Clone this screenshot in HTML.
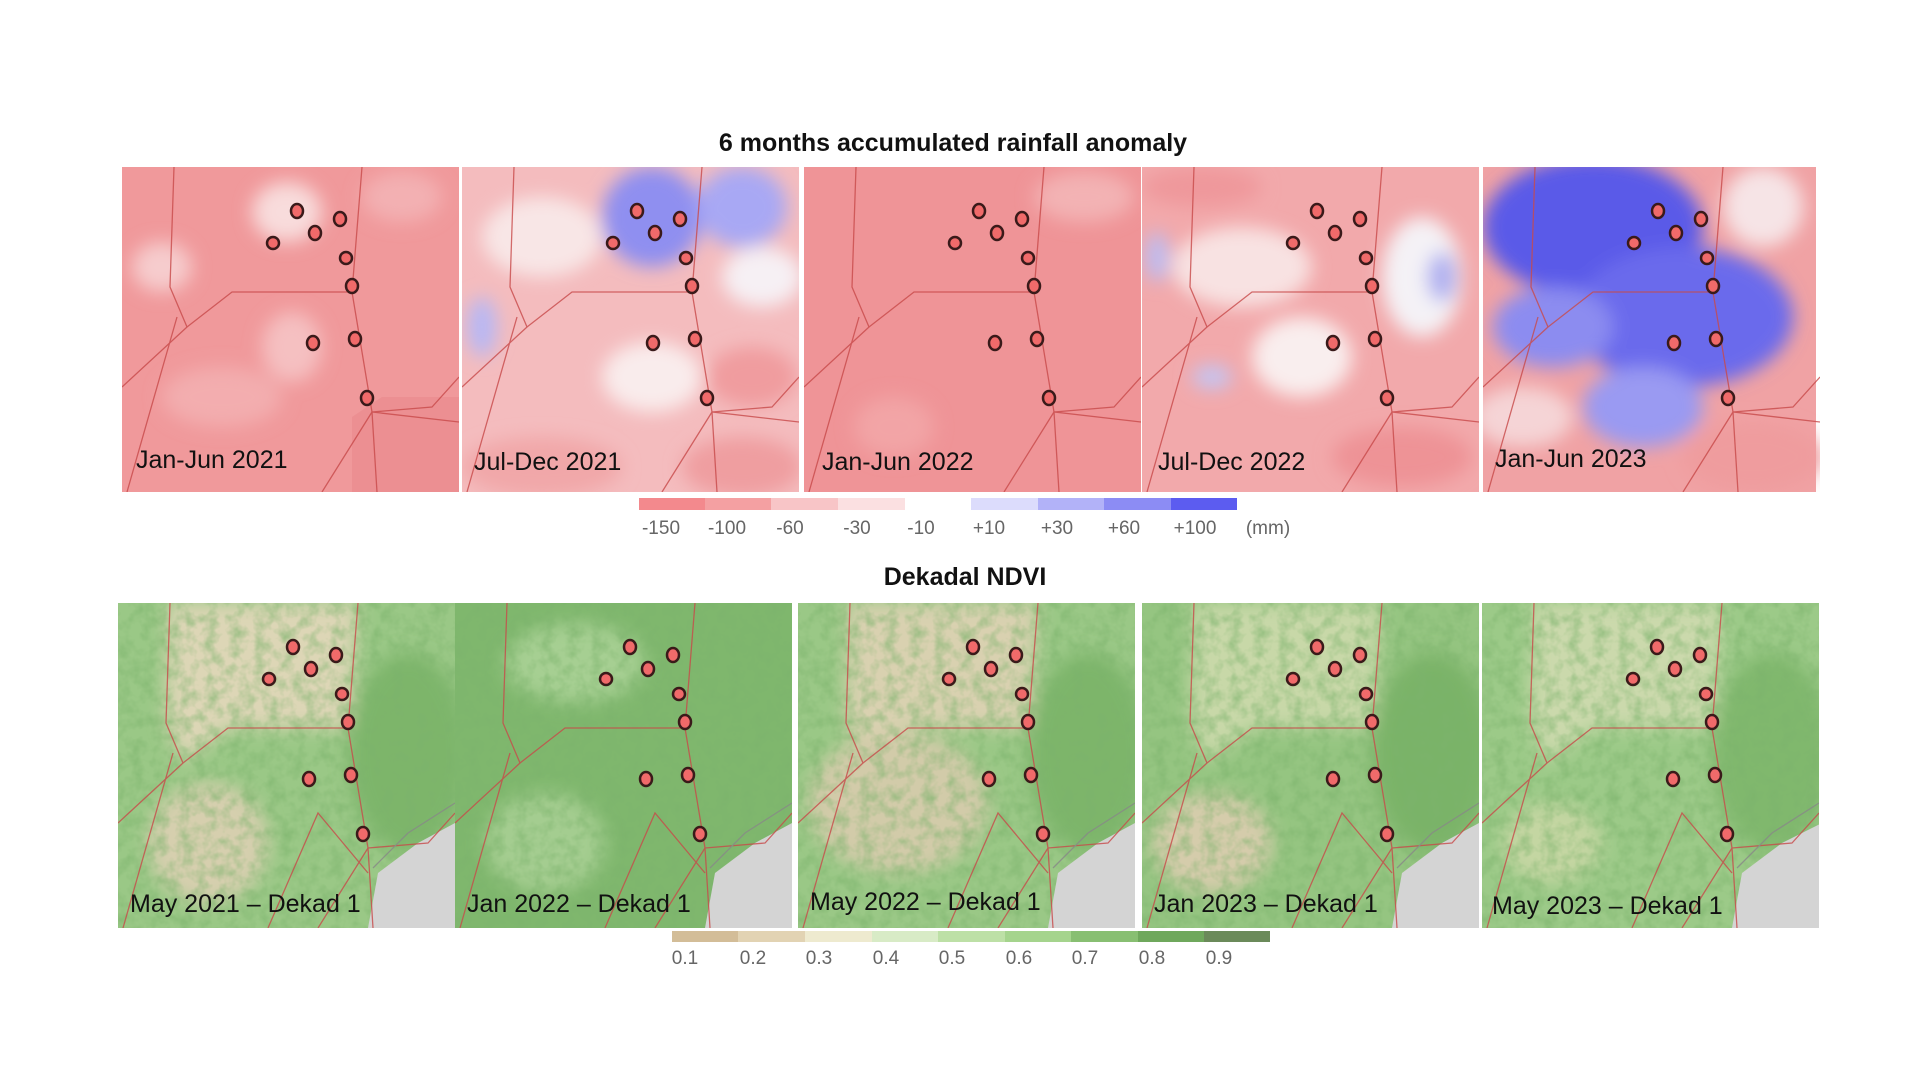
<!DOCTYPE html>
<html><head><meta charset="utf-8"><style>
html,body{margin:0;padding:0;background:#fff;width:1920px;height:1080px;overflow:hidden}
svg{display:block}
text{font-family:"Liberation Sans",sans-serif}
</style></head><body>
<svg width="1920" height="1080" viewBox="0 0 1920 1080" xmlns="http://www.w3.org/2000/svg">
<defs>
<filter id="b" x="-20%" y="-20%" width="140%" height="140%"><feGaussianBlur stdDeviation="9"/></filter>
<filter id="n" x="0" y="0" width="100%" height="100%"><feTurbulence type="fractalNoise" baseFrequency="0.08" numOctaves="3" seed="4"/><feColorMatrix values="0 0 0 0 0.2  0 0 0 0 0.45  0 0 0 0 0.15  0 0 0 1.2 -0.45"/></filter>
<clipPath id="c"><rect width="337" height="325"/></clipPath>
<g id="dots">
<g fill="#f06a6a" stroke="#3a1a1a" stroke-width="2.5">
<ellipse cx="175" cy="44" rx="6" ry="7"/><ellipse cx="218" cy="52" rx="6" ry="7"/><ellipse cx="151" cy="76" rx="6" ry="6"/><ellipse cx="193" cy="66" rx="6" ry="7"/><ellipse cx="224" cy="91" rx="6" ry="6"/><ellipse cx="230" cy="119" rx="6" ry="7"/><ellipse cx="191" cy="176" rx="6" ry="7"/><ellipse cx="233" cy="172" rx="6" ry="7"/><ellipse cx="245" cy="231" rx="6" ry="7"/></g></g>
<g id="lines" fill="none" stroke="#c84a4a" stroke-width="1.3" opacity="0.8">
<polyline points="52,0 48,120 65,160 110,125 230,125 240,0"/>
<polyline points="230,125 250,245 255,325"/>
<polyline points="65,160 0,220"/>
<polyline points="5,325 55,150"/>
<polyline points="250,245 200,325"/>
<polyline points="250,245 310,240 337,210"/>
<polyline points="255,265 290,230 337,200" stroke="#888"/>
<polyline points="150,325 200,210 250,270"/>
</g>
<g id="rlines" fill="none" stroke="#c84a4a" stroke-width="1.3" opacity="0.8">
<polyline points="52,0 48,120 65,160 110,125 230,125 240,0"/>
<polyline points="230,125 250,245 255,325"/>
<polyline points="65,160 0,220"/>
<polyline points="5,325 55,150"/>
<polyline points="250,245 310,240 337,210"/>
<polyline points="200,325 250,245 337,255"/>
</g>
</defs>

<text x="953" y="151" font-size="25" font-weight="bold" text-anchor="middle" fill="#111">6 months accumulated rainfall anomaly</text>

<!-- Panel 1 -->
<g transform="translate(122,167)" clip-path="url(#c)">
<rect width="337" height="325" fill="#f0999b"/>
<g filter="url(#b)"><ellipse cx="165" cy="45" rx="35" ry="30" fill="#f8dcdc"/><ellipse cx="40" cy="100" rx="30" ry="25" fill="#f6cccd"/><ellipse cx="170" cy="180" rx="30" ry="35" fill="#f5c0c1"/><ellipse cx="280" cy="30" rx="40" ry="25" fill="#f3b0b2"/><ellipse cx="100" cy="230" rx="60" ry="30" fill="#f3adaf"/></g>
<path d="M230,250 L260,230 337,230 337,325 230,325Z" fill="#e98a8e" opacity="0.7"/>
<use href="#rlines"/><use href="#dots"/>
<text x="14" y="301" font-size="25" fill="#111">Jan-Jun 2021</text>
</g>
<!-- Panel 2 -->
<g transform="translate(462,167)" clip-path="url(#c)">
<rect width="337" height="325" fill="#f4bcbe"/>
<g filter="url(#b)"><ellipse cx="190" cy="50" rx="50" ry="50" fill="#8f8ff0"/><ellipse cx="280" cy="40" rx="45" ry="40" fill="#a8a8f4"/><ellipse cx="300" cy="110" rx="40" ry="30" fill="#f6f0f4"/><ellipse cx="80" cy="70" rx="60" ry="40" fill="#f8e6e6"/><ellipse cx="20" cy="160" rx="15" ry="30" fill="#b8b8f4"/><ellipse cx="190" cy="210" rx="50" ry="35" fill="#f9ecec"/><ellipse cx="280" cy="300" rx="60" ry="30" fill="#ef9ea0"/><ellipse cx="80" cy="300" rx="80" ry="30" fill="#f1a7a9"/><ellipse cx="290" cy="210" rx="45" ry="30" fill="#f09c9f"/></g>
<use href="#rlines"/><use href="#dots"/>
<text x="12" y="303" font-size="25" fill="#111">Jul-Dec 2021</text>
</g>
<!-- Panel 3 -->
<g transform="translate(804,167)" clip-path="url(#c)">
<rect width="337" height="325" fill="#ef9497"/>
<g filter="url(#b)"><ellipse cx="280" cy="30" rx="50" ry="25" fill="#f3b2b4"/><ellipse cx="90" cy="260" rx="40" ry="30" fill="#f2a4a6"/></g>
<use href="#rlines"/><use href="#dots"/>
<text x="18" y="303" font-size="25" fill="#111">Jan-Jun 2022</text>
</g>
<!-- Panel 4 -->
<g transform="translate(1142,167)" clip-path="url(#c)">
<rect width="337" height="325" fill="#f2a9ab"/>
<g filter="url(#b)"><ellipse cx="100" cy="100" rx="70" ry="40" fill="#f8e2e2"/><ellipse cx="280" cy="110" rx="40" ry="60" fill="#f4f2f6"/><ellipse cx="300" cy="110" rx="15" ry="25" fill="#b0b0f0"/><ellipse cx="15" cy="90" rx="12" ry="25" fill="#bcbcf2"/><ellipse cx="160" cy="190" rx="50" ry="40" fill="#f9eeee"/><ellipse cx="70" cy="210" rx="20" ry="12" fill="#c4c4f2"/><ellipse cx="260" cy="290" rx="70" ry="30" fill="#ee9396"/><ellipse cx="60" cy="20" rx="60" ry="20" fill="#ef989b"/></g>
<use href="#rlines"/><use href="#dots"/>
<text x="16" y="303" font-size="25" fill="#111">Jul-Dec 2022</text>
</g>
<!-- Panel 5 -->
<g transform="translate(1483,167)" clip-path="url(#c)">
<rect width="333" height="325" fill="#f0a2a4"/>
<g filter="url(#b)"><ellipse cx="110" cy="60" rx="110" ry="70" fill="#5a5ae8"/><ellipse cx="200" cy="150" rx="110" ry="70" fill="#6a6aec"/><ellipse cx="70" cy="160" rx="60" ry="40" fill="#8c8cf0"/><ellipse cx="280" cy="40" rx="40" ry="40" fill="#f6e4e6"/><ellipse cx="160" cy="240" rx="60" ry="40" fill="#9a9af2"/><ellipse cx="40" cy="250" rx="50" ry="30" fill="#f5d4d6"/><ellipse cx="270" cy="290" rx="70" ry="35" fill="#ef9c9e"/></g>
<use href="#rlines"/><use href="#dots"/>
<text x="12" y="300" font-size="25" fill="#111">Jan-Jun 2023</text>
</g>

<!-- rainfall legend -->
<rect x="639" y="498" width="66" height="12" fill="#f3898d"/>
<rect x="705" y="498" width="66" height="12" fill="#f4a0a2"/>
<rect x="771" y="498" width="67" height="12" fill="#f8c5c7"/>
<rect x="838" y="498" width="67" height="12" fill="#fbe0e1"/>
<rect x="971" y="498" width="67" height="12" fill="#dcdcfc"/>
<rect x="1038" y="498" width="66" height="12" fill="#b2b2f8"/>
<rect x="1104" y="498" width="67" height="12" fill="#8c8cf4"/>
<rect x="1171" y="498" width="66" height="12" fill="#5c5cf0"/>
<g font-size="19" fill="#666" text-anchor="middle">
<text x="661" y="534">-150</text><text x="727" y="534">-100</text><text x="790" y="534">-60</text><text x="857" y="534">-30</text><text x="921" y="534">-10</text><text x="989" y="534">+10</text><text x="1057" y="534">+30</text><text x="1124" y="534">+60</text><text x="1195" y="534">+100</text><text x="1268" y="534">(mm)</text></g>

<text x="965" y="585" font-size="25" font-weight="bold" text-anchor="middle" fill="#111">Dekadal NDVI</text>

<!-- NDVI panels -->
<g id="ndvi1" transform="translate(118,603)" clip-path="url(#c)">
<rect width="337" height="325" fill="#9ac886"/>
<g filter="url(#b)"><path d="M50,0 L240,0 230,125 110,125 65,160 48,120Z" fill="#ddd6b6"/><ellipse cx="90" cy="240" rx="60" ry="60" fill="#d6cfae"/><ellipse cx="290" cy="150" rx="60" ry="100" fill="#7db56a"/></g>
<rect width="337" height="325" filter="url(#n)"/>
<path d="M250,325 L260,270 300,240 337,220 337,325Z" fill="#d4d4d4"/>
<use href="#lines"/><use href="#dots"/>
<text x="12" y="309" font-size="25" fill="#111">May 2021 – Dekad 1</text>
</g>
<g transform="translate(455,603)" clip-path="url(#c)">
<rect width="337" height="325" fill="#7fb76d"/>
<g filter="url(#b)"><ellipse cx="120" cy="60" rx="70" ry="40" fill="#a6cf92"/><ellipse cx="90" cy="240" rx="60" ry="50" fill="#a4cd90"/></g>
<rect width="337" height="325" filter="url(#n)"/>
<path d="M250,325 L260,270 300,240 337,220 337,325Z" fill="#d4d4d4"/>
<use href="#lines"/><use href="#dots"/>
<text x="12" y="309" font-size="25" fill="#111">Jan 2022 – Dekad 1</text>
</g>
<g transform="translate(798,603)" clip-path="url(#c)">
<rect width="337" height="325" fill="#9ac886"/>
<g filter="url(#b)"><path d="M50,0 L240,0 230,125 110,125 65,160 48,120Z" fill="#d9d1b0"/><ellipse cx="100" cy="200" rx="90" ry="70" fill="#d2cba9"/><ellipse cx="290" cy="150" rx="60" ry="100" fill="#7db56a"/></g>
<rect width="337" height="325" filter="url(#n)"/>
<path d="M250,325 L260,270 300,240 337,220 337,325Z" fill="#d4d4d4"/>
<use href="#lines"/><use href="#dots"/>
<text x="12" y="307" font-size="25" fill="#111">May 2022 – Dekad 1</text>
</g>
<g transform="translate(1142,603)" clip-path="url(#c)">
<rect width="337" height="325" fill="#95c581"/>
<g filter="url(#b)"><path d="M50,0 L240,0 230,125 110,125 65,160 48,120Z" fill="#c8d8a8"/><ellipse cx="70" cy="240" rx="60" ry="50" fill="#d5ccab"/><ellipse cx="290" cy="150" rx="60" ry="100" fill="#7ab368"/></g>
<rect width="337" height="325" filter="url(#n)"/>
<path d="M250,325 L260,270 300,240 337,220 337,325Z" fill="#d4d4d4"/>
<use href="#lines"/><use href="#dots"/>
<text x="12" y="309" font-size="25" fill="#111">Jan 2023 – Dekad 1</text>
</g>
<g transform="translate(1482,603)" clip-path="url(#c)">
<rect width="340" height="325" fill="#9cca88"/>
<g filter="url(#b)"><path d="M50,0 L240,0 230,125 110,125 65,160 48,120Z" fill="#cbd9ac"/><ellipse cx="70" cy="240" rx="50" ry="40" fill="#c4d6a2"/><ellipse cx="290" cy="150" rx="60" ry="100" fill="#80b86d"/></g>
<rect width="340" height="325" filter="url(#n)"/>
<path d="M250,325 L260,270 300,240 340,220 340,325Z" fill="#d4d4d4"/>
<use href="#lines"/><use href="#dots"/>
<text x="10" y="311" font-size="25" fill="#111">May 2023 – Dekad 1</text>
</g>

<!-- NDVI legend -->
<rect x="672" y="931" width="66" height="11" fill="#d3bd98"/>
<rect x="738" y="931" width="67" height="11" fill="#e2d3b3"/>
<rect x="805" y="931" width="67" height="11" fill="#eeeacf"/>
<rect x="872" y="931" width="66" height="11" fill="#d8ebc6"/>
<rect x="938" y="931" width="67" height="11" fill="#bde0a6"/>
<rect x="1005" y="931" width="66" height="11" fill="#a5d48d"/>
<rect x="1071" y="931" width="67" height="11" fill="#88bf72"/>
<rect x="1138" y="931" width="66" height="11" fill="#6fa85c"/>
<rect x="1204" y="931" width="66" height="11" fill="#6b8a5a"/>
<g font-size="19" fill="#666" text-anchor="middle">
<text x="685" y="964">0.1</text><text x="753" y="964">0.2</text><text x="819" y="964">0.3</text><text x="886" y="964">0.4</text><text x="952" y="964">0.5</text><text x="1019" y="964">0.6</text><text x="1085" y="964">0.7</text><text x="1152" y="964">0.8</text><text x="1219" y="964">0.9</text></g>
</svg>
</body></html>
